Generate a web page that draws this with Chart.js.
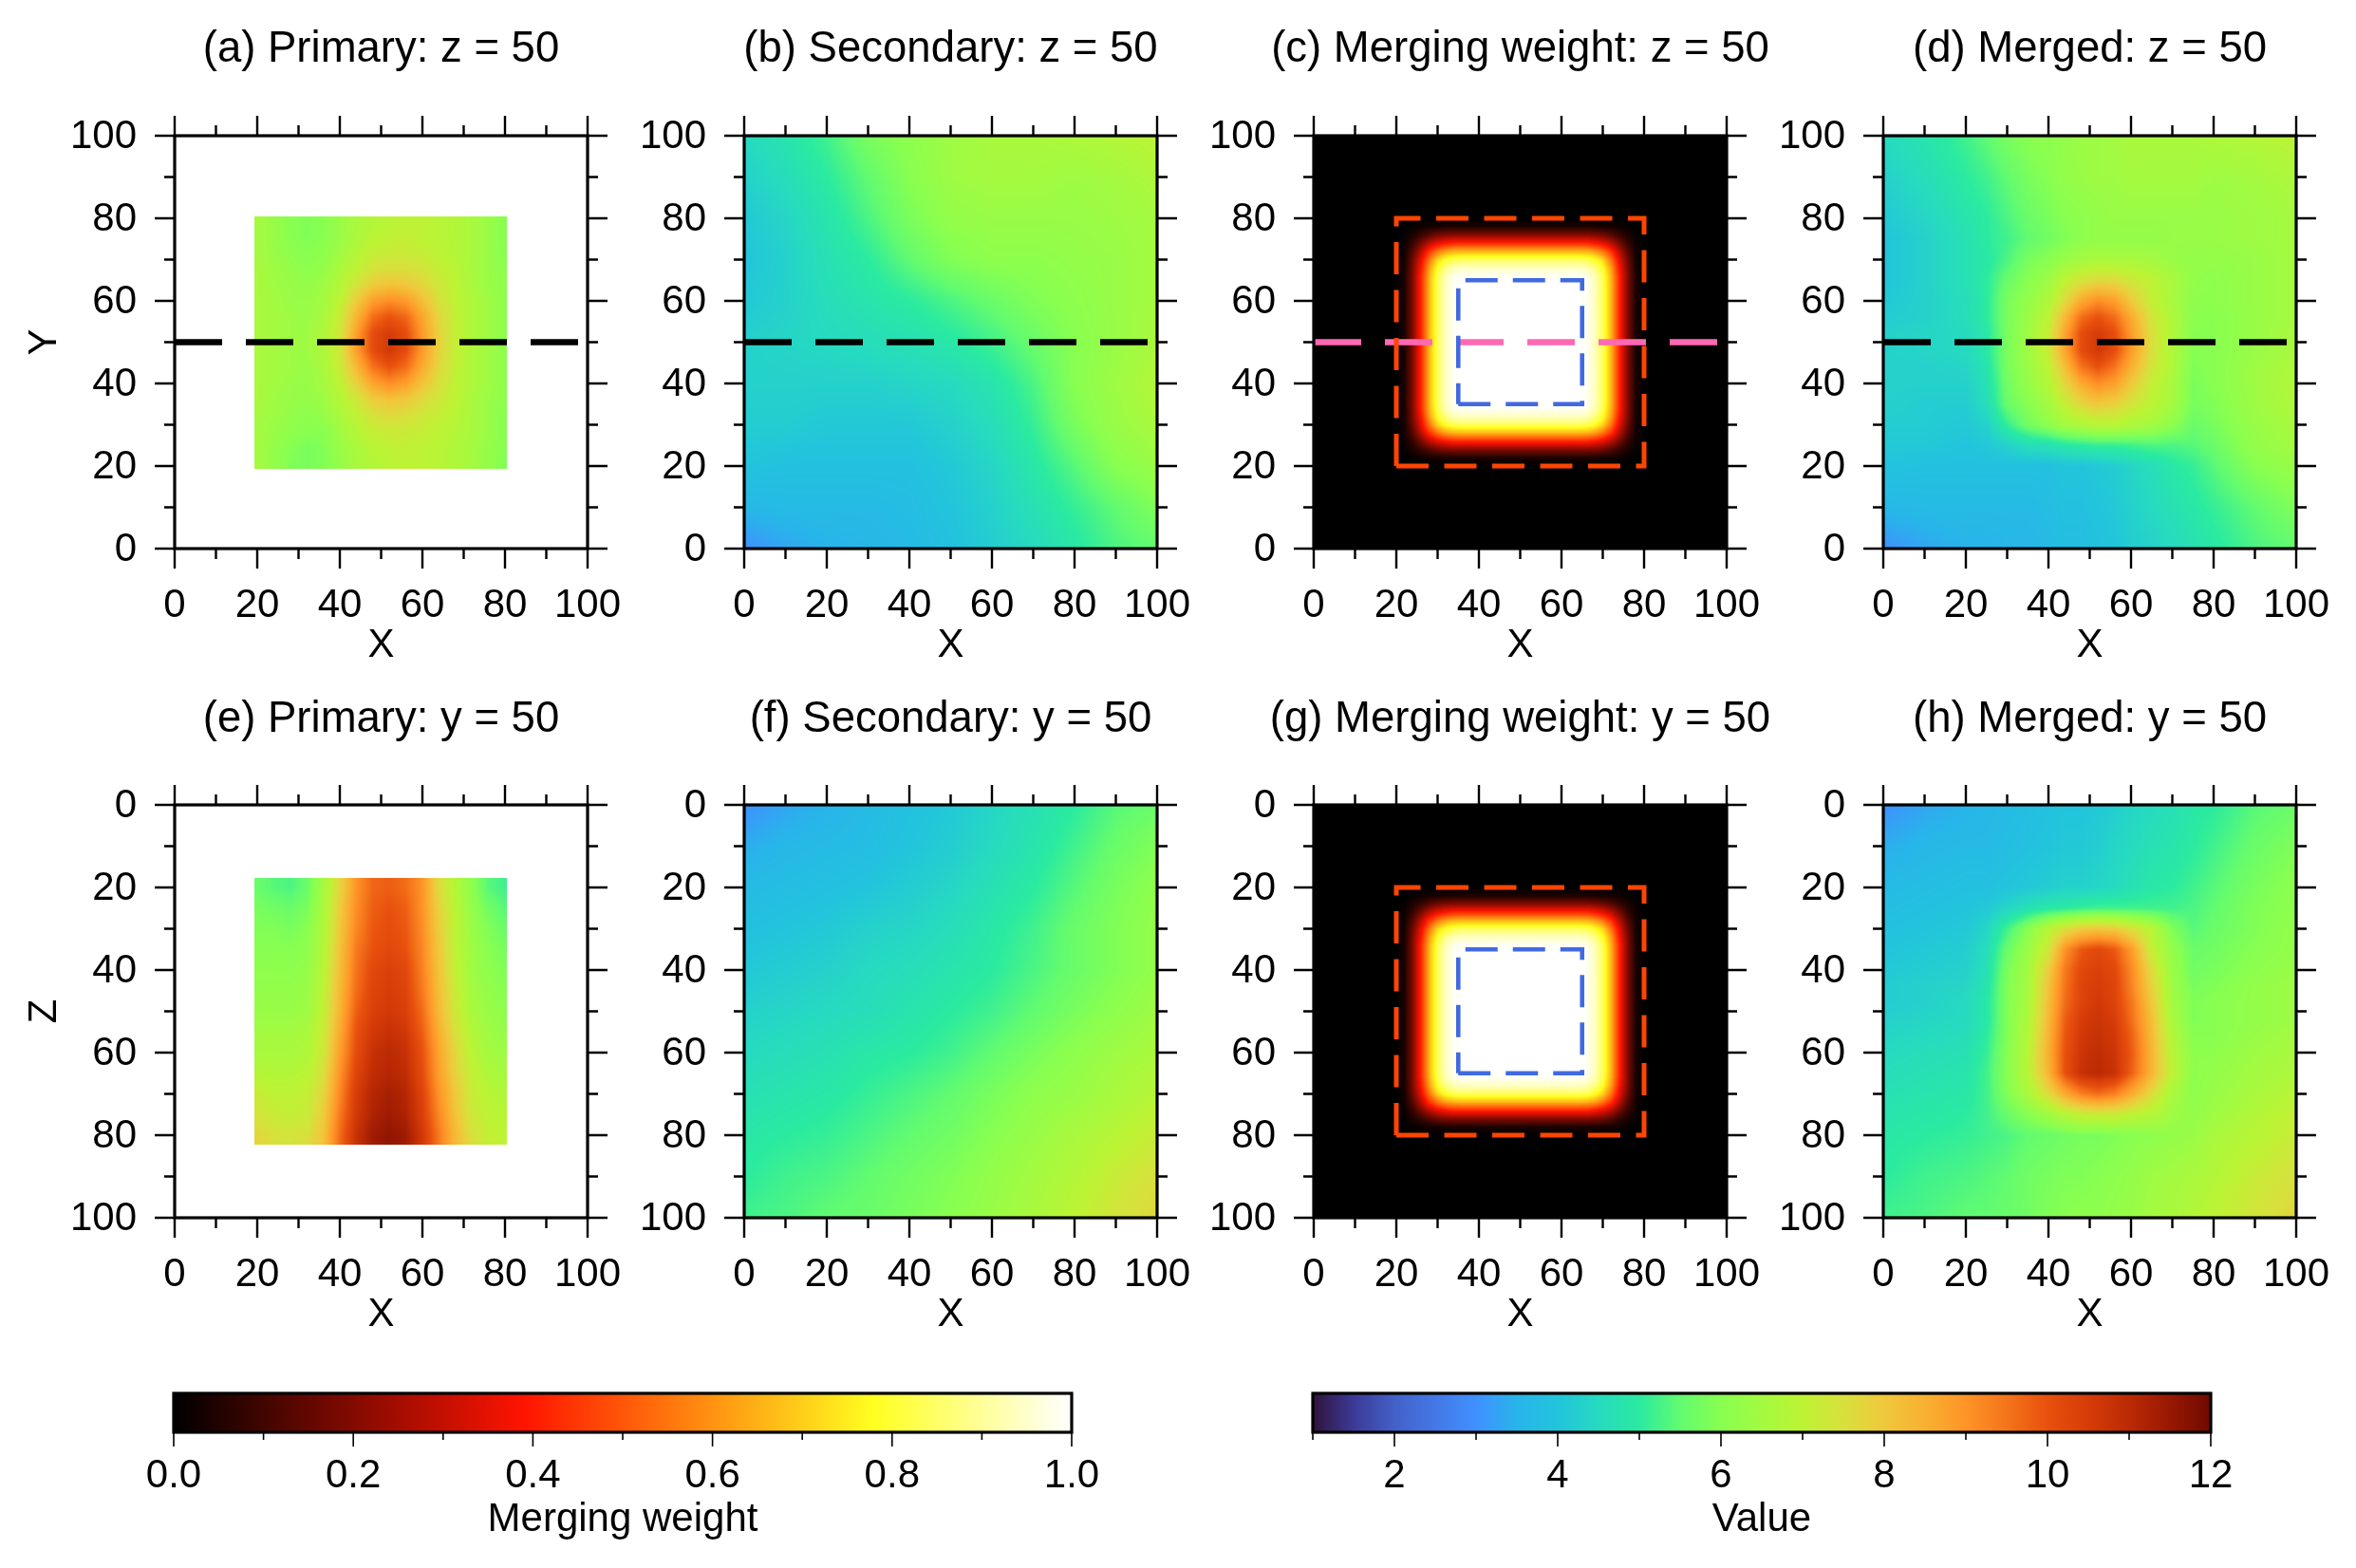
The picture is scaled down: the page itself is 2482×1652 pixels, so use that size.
<!DOCTYPE html>
<html>
<head>
<meta charset="utf-8">
<title>Merging panels</title>
<script src="https://cdn.jsdelivr.net/npm/chart.js@4"></script>
<style>
  html, body { margin: 0; padding: 0; background: #fff; }
  #page { position: relative; width: 2482px; height: 1652px; overflow: hidden; background: #fff; }
  canvas { position: absolute; }
</style>
</head>
<body>
<div id="page"></div>
<script>
// tick labels
const axisMajor = [0, 20, 40, 60, 80, 100];
const axisMinor = [10, 30, 50, 70, 90];
const weightMajor = [0, 0.2, 0.4, 0.6, 0.8, 1];
const weightMinor = [0.1, 0.3, 0.5, 0.7, 0.9];
const valueMajor = [2, 4, 6, 8, 10, 12];
const valueMinor = [1, 3, 5, 7, 9, 11];

// colour tables (value, colour)
const valueStops = [
  [1, '#30123b'], [1.5, '#3c3a96'], [2, '#4360c8'], [2.5, '#4478e6'], [3, '#4090ff'], [3.5, '#28b4ea'],
  [4, '#22c4dc'], [4.5, '#26dac0'], [5, '#2aeaa0'], [5.5, '#62fb70'], [6, '#88ff50'], [6.5, '#a4fa40'],
  [7, '#bdf334'], [7.5, '#d8e03c'], [8, '#f0c83c'], [8.5, '#f8b030'], [9, '#ff9428'], [9.5, '#f4741a'],
  [10, '#e8500e'], [10.5, '#d63c08'], [11, '#bb2a04'], [11.5, '#981802'], [12, '#6f0a00']
];
const weightStops = [[0, '#000000'], [0.39, '#ff1400'], [0.78, '#ffff20'], [1, '#ffffff']];

// sampled grid nodes
const coarseNodes = [0, 10, 20, 30, 40, 50, 60, 70, 80, 90, 100];
const coarseNodesDown = [100, 90, 80, 70, 60, 50, 40, 30, 20, 10, 0];
const primaryNodes = [20, 24, 28, 32, 36, 40, 44, 48, 52, 56, 60, 64, 68, 72, 76, 80];
const primaryNodesDown = [80, 76, 72, 68, 64, 60, 56, 52, 48, 44, 40, 36, 32, 28, 24, 20];
const primaryDepths = [20, 25, 30, 35, 40, 45, 50, 55, 60, 65, 70, 75, 80];
const weightNodes = [0, 20, 22, 24, 26, 28, 30, 32, 34, 36, 50, 64, 66, 68, 70, 72, 74, 76, 78, 80, 100];
const mergedNodes = [0, 10, 20, 25, 30, 35, 40, 44, 48, 52, 56, 60, 65, 70, 75, 80, 90, 100];
const mergedNodesDown = [100, 90, 80, 75, 70, 65, 60, 56, 52, 48, 44, 40, 35, 30, 25, 20, 10, 0];

// (a) primary at z = 50, rows top to bottom
const primaryZ = [
  [6.5,6.3,6.0,5.9,6.0,6.3,6.6,6.8,6.9,7.0,7.0,6.9,6.8,6.6,6.3,6.0],
  [6.5,6.3,6.0,5.9,6.0,6.3,6.6,6.9,7.0,7.1,7.0,6.9,6.8,6.6,6.3,6.0],
  [6.5,6.3,6.1,6.0,6.1,6.4,6.8,7.1,7.2,7.2,7.1,7.0,6.8,6.6,6.3,6.0],
  [6.6,6.4,6.2,6.1,6.2,6.6,7.0,7.4,7.5,7.5,7.4,7.1,6.9,6.6,6.3,6.1],
  [6.6,6.4,6.3,6.2,6.4,6.8,7.4,7.9,8.1,8.0,7.7,7.3,7.0,6.6,6.3,6.1],
  [6.6,6.5,6.3,6.3,6.5,7.0,7.9,8.8,9.1,8.9,8.2,7.5,7.0,6.7,6.4,6.1],
  [6.6,6.5,6.4,6.3,6.6,7.2,8.4,9.6,10.0,9.7,8.7,7.7,7.1,6.7,6.4,6.1],
  [6.6,6.5,6.4,6.4,6.7,7.3,8.8,10.1,10.5,10.1,8.9,7.8,7.1,6.7,6.4,6.1],
  [6.6,6.5,6.4,6.4,6.7,7.3,8.8,10.1,10.6,10.1,8.9,7.8,7.1,6.7,6.4,6.1],
  [6.6,6.5,6.4,6.3,6.6,7.2,8.3,9.5,10.0,9.6,8.6,7.7,7.1,6.7,6.4,6.1],
  [6.6,6.5,6.3,6.3,6.5,7.0,7.8,8.7,9.1,8.8,8.1,7.5,7.0,6.7,6.4,6.1],
  [6.6,6.4,6.3,6.2,6.4,6.8,7.3,7.9,8.1,8.0,7.6,7.3,7.0,6.6,6.3,6.1],
  [6.5,6.4,6.2,6.1,6.2,6.6,7.0,7.4,7.6,7.5,7.3,7.1,6.9,6.6,6.3,6.0],
  [6.5,6.3,6.1,6.0,6.0,6.4,6.8,7.1,7.2,7.2,7.1,7.0,6.8,6.6,6.3,6.0],
  [6.5,6.2,6.0,5.8,5.9,6.3,6.6,6.9,7.0,7.1,7.0,6.9,6.7,6.5,6.2,6.0],
  [6.5,6.2,5.9,5.8,5.9,6.2,6.6,6.8,6.9,7.0,7.0,6.9,6.7,6.5,6.2,5.9]
];

// (b) secondary at z = 50
const secondaryZ = [
  [4.5,4.8,5.2,5.8,6.1,6.4,6.6,6.6,6.7,6.8,7.0],
  [4.3,4.6,5.0,5.5,6.0,6.4,6.5,6.5,6.4,6.5,6.7],
  [4.1,4.4,4.8,5.3,5.8,6.2,6.3,6.3,6.3,6.4,6.5],
  [4.0,4.3,4.7,5.0,5.5,5.9,6.1,6.1,6.2,6.3,6.5],
  [4.1,4.3,4.6,4.8,5.0,5.3,5.6,5.9,6.1,6.3,6.5],
  [4.3,4.4,4.5,4.6,4.7,4.9,5.2,5.6,6.0,6.3,6.6],
  [4.3,4.3,4.3,4.3,4.4,4.5,4.8,5.3,6.0,6.4,6.8],
  [4.2,4.2,4.1,4.1,4.1,4.3,4.6,5.1,5.8,6.3,6.6],
  [4.0,3.9,3.9,3.9,3.9,4.1,4.4,4.9,5.4,6.0,6.3],
  [3.6,3.7,3.7,3.7,3.8,4.0,4.3,4.7,5.1,5.5,5.9],
  [3.0,3.3,3.5,3.6,3.7,3.9,4.2,4.5,4.9,5.3,5.5]
];

// (c, g) merging weight, rows by distance from the box edge
const wEdge = [0,0,0,0,0,0,0,0,0,0,0,0,0,0,0,0,0,0,0,0,0];
const w22 = [0,0,0,.01,.02,.03,.03,.04,.04,.04,.04,.04,.04,.04,.03,.03,.02,.01,0,0,0];
const w24 = [0,0,.01,.04,.08,.13,.17,.19,.2,.2,.2,.2,.2,.19,.17,.13,.08,.04,.01,0,0];
const w26 = [0,0,.02,.08,.18,.28,.35,.39,.42,.42,.42,.42,.42,.39,.35,.28,.18,.08,.02,0,0];
const w28 = [0,0,.03,.13,.28,.44,.55,.62,.65,.66,.66,.66,.65,.62,.55,.44,.28,.13,.03,0,0];
const w30 = [0,0,.03,.17,.35,.55,.71,.79,.83,.84,.84,.84,.83,.79,.71,.55,.35,.17,.03,0,0];
const w32 = [0,0,.04,.19,.39,.62,.79,.88,.93,.94,.94,.94,.93,.88,.79,.62,.39,.19,.04,0,0];
const w34 = [0,0,.04,.2,.42,.65,.83,.93,.98,.99,.99,.99,.98,.93,.83,.65,.42,.2,.04,0,0];
const w36 = [0,0,.04,.2,.42,.66,.84,.94,.99,1,1,1,.99,.94,.84,.66,.42,.2,.04,0,0];
const weightGrid = [wEdge, wEdge, w22, w24, w26, w28, w30, w32, w34, w36, w36, w36, w34, w32, w30, w28, w26, w24, w22, wEdge, wEdge];

// (d) merged at z = 50
const mergedZ = [
  [4.5,4.8,5.2,5.5,5.8,6.0,6.1,6.2,6.4,6.4,6.5,6.6,6.6,6.6,6.6,6.7,6.8,7.0],
  [4.3,4.6,5.0,5.2,5.5,5.8,6.0,6.2,6.3,6.4,6.4,6.5,6.5,6.5,6.5,6.4,6.5,6.7],
  [4.1,4.4,4.8,5.0,5.3,5.6,5.8,6.0,6.1,6.2,6.3,6.3,6.3,6.3,6.3,6.3,6.4,6.5],
  [4.0,4.3,4.7,5.0,5.2,5.5,5.7,5.9,6.1,6.2,6.2,6.2,6.2,6.3,6.3,6.3,6.4,6.5],
  [4.0,4.3,4.7,4.9,5.3,5.8,6.0,6.3,6.5,6.6,6.6,6.6,6.5,6.3,6.2,6.2,6.3,6.5],
  [4.0,4.3,4.7,5.0,5.6,6.0,6.4,7.0,7.4,7.6,7.6,7.3,7.0,6.6,6.2,6.1,6.3,6.5],
  [4.1,4.3,4.6,5.0,5.8,6.2,6.7,7.6,8.6,9.1,8.8,8.0,7.1,6.6,6.1,6.1,6.3,6.5],
  [4.2,4.3,4.6,5.0,5.8,6.3,7.0,8.3,9.6,10.0,9.6,8.6,7.4,6.7,6.1,6.0,6.3,6.5],
  [4.3,4.4,4.5,4.9,5.8,6.4,7.2,8.7,10.1,10.5,10.1,8.9,7.5,6.7,6.0,6.0,6.3,6.6],
  [4.3,4.4,4.5,4.9,5.8,6.4,7.2,8.7,10.1,10.6,10.1,8.9,7.5,6.7,6.0,6.0,6.3,6.6],
  [4.3,4.3,4.4,4.8,5.8,6.3,7.0,8.2,9.5,10.0,9.5,8.5,7.4,6.7,5.9,6.0,6.4,6.7],
  [4.3,4.3,4.3,4.7,5.7,6.2,6.8,7.7,8.6,9.1,8.8,8.0,7.1,6.6,5.8,6.0,6.4,6.8],
  [4.3,4.2,4.2,4.6,5.6,6.0,6.5,7.1,7.7,8.0,7.8,7.4,7.0,6.5,5.8,5.9,6.4,6.7],
  [4.2,4.2,4.1,4.3,5.1,5.7,6.1,6.5,6.7,6.9,6.9,6.7,6.5,6.1,5.6,5.8,6.3,6.6],
  [4.1,4.1,4.0,4.1,4.3,4.6,4.7,4.9,5.0,5.1,5.1,5.2,5.3,5.3,5.4,5.6,6.2,6.5],
  [4.0,3.9,3.9,3.9,3.9,3.9,3.9,4.0,4.0,4.1,4.2,4.4,4.6,4.9,5.1,5.4,6.0,6.3],
  [3.6,3.7,3.7,3.7,3.7,3.7,3.8,3.9,3.9,4.0,4.1,4.3,4.5,4.7,4.9,5.1,5.5,5.9],
  [3.0,3.3,3.5,3.5,3.6,3.6,3.7,3.8,3.8,3.9,4.0,4.2,4.3,4.5,4.7,4.9,5.3,5.5]
];

// (e) primary at y = 50
const primaryY = [
  [5.6,5.4,5.3,5.6,6.5,7.7,9.0,9.7,9.8,9.6,9.0,7.6,6.8,6.1,5.4,5.2],
  [5.8,5.7,5.6,5.8,6.6,7.9,9.1,9.8,10.0,9.8,9.0,7.8,6.9,6.2,5.7,5.4],
  [5.9,5.9,5.8,6.0,6.7,8.0,9.2,9.9,10.1,9.9,9.1,7.9,7.0,6.3,5.9,5.6],
  [6.0,6.0,6.0,6.1,6.8,8.1,9.4,10.0,10.2,10.0,9.2,8.0,7.0,6.4,6.0,5.8],
  [6.1,6.1,6.1,6.2,6.9,8.2,9.5,10.2,10.4,10.2,9.3,8.1,7.1,6.4,6.1,5.9],
  [6.2,6.2,6.2,6.3,7.0,8.3,9.6,10.3,10.5,10.3,9.4,8.2,7.2,6.5,6.2,6.0],
  [6.3,6.3,6.3,6.4,7.1,8.4,9.8,10.4,10.6,10.4,9.6,8.3,7.3,6.6,6.3,6.1],
  [6.5,6.5,6.5,6.6,7.2,8.6,10.0,10.6,10.8,10.6,9.8,8.5,7.5,6.8,6.4,6.2],
  [6.6,6.6,6.6,6.7,7.3,8.8,10.1,10.8,11.0,10.8,10.0,8.7,7.7,6.9,6.5,6.4],
  [6.8,6.8,6.8,6.9,7.5,9.0,10.3,10.9,11.1,10.9,10.1,8.8,7.8,7.1,6.7,6.5],
  [7.2,7.0,7.0,7.1,7.7,9.2,10.5,11.1,11.3,11.1,10.3,9.0,8.0,7.2,6.9,6.7],
  [7.4,7.2,7.1,7.2,7.9,9.4,10.6,11.2,11.4,11.2,10.4,9.2,8.1,7.3,7.0,6.9],
  [7.7,7.5,7.4,7.5,8.1,9.6,10.8,11.4,11.6,11.4,10.6,9.4,8.3,7.5,7.1,7.0]
];

// (f) secondary at y = 50
const secondaryY = [
  [3.0,3.3,3.5,3.7,3.9,4.1,4.4,4.7,5.0,5.4,5.6],
  [3.4,3.6,3.7,3.8,4.0,4.2,4.5,4.8,5.2,5.6,5.9],
  [3.7,3.8,3.9,4.0,4.2,4.4,4.7,5.0,5.4,5.8,6.1],
  [3.9,4.0,4.1,4.3,4.4,4.6,4.9,5.2,5.6,5.9,6.2],
  [4.1,4.2,4.3,4.5,4.6,4.8,5.0,5.3,5.6,5.9,6.2],
  [4.3,4.4,4.5,4.6,4.8,5.0,5.2,5.5,5.8,6.1,6.4],
  [4.5,4.6,4.7,4.9,5.0,5.2,5.5,5.8,6.1,6.4,6.6],
  [4.7,4.8,4.9,5.1,5.3,5.5,5.8,6.1,6.3,6.6,6.9],
  [4.9,5.0,5.1,5.3,5.5,5.7,6.0,6.3,6.6,6.9,7.2],
  [5.0,5.2,5.3,5.5,5.7,5.9,6.2,6.5,6.8,7.2,7.5],
  [5.2,5.3,5.5,5.6,5.8,6.0,6.3,6.6,7.0,7.4,7.7]
];

// (h) merged at y = 50
const mergedY = [
  [3.0,3.3,3.5,3.6,3.7,3.8,3.9,4.0,4.0,4.1,4.2,4.4,4.5,4.7,4.9,5.0,5.4,5.6],
  [3.4,3.6,3.7,3.7,3.8,3.9,4.0,4.1,4.1,4.2,4.4,4.5,4.7,4.8,5.0,5.2,5.6,5.9],
  [3.7,3.8,3.9,3.9,4.0,4.1,4.2,4.3,4.3,4.4,4.5,4.7,4.9,5.0,5.2,5.4,5.8,6.1],
  [3.8,3.9,4.0,4.1,4.4,4.7,4.9,5.0,5.1,5.2,5.2,5.2,5.2,5.2,5.3,5.5,5.9,6.1],
  [3.9,4.0,4.1,4.4,5.2,6.0,6.9,7.5,7.9,8.0,7.9,7.5,6.9,5.9,5.4,5.6,5.9,6.2],
  [4.0,4.1,4.2,4.6,5.6,6.3,7.3,9.0,9.9,10.2,9.9,8.9,7.1,6.2,5.6,5.7,6.0,6.2],
  [4.1,4.2,4.3,4.7,5.8,6.5,7.9,9.4,10.2,10.4,10.2,9.2,7.6,6.3,5.7,5.8,6.1,6.3],
  [4.2,4.3,4.4,4.8,5.9,6.5,8.1,9.5,10.3,10.5,10.3,9.3,7.8,6.4,5.8,5.9,6.2,6.4],
  [4.2,4.3,4.5,4.9,5.9,6.6,8.2,9.6,10.3,10.6,10.3,9.5,8.0,6.5,5.9,6.0,6.2,6.4],
  [4.3,4.4,4.5,4.9,5.9,6.7,8.3,9.8,10.5,10.7,10.5,9.6,8.2,6.6,5.9,6.0,6.2,6.4],
  [4.4,4.5,4.6,5.0,5.9,6.8,8.4,9.9,10.6,10.8,10.6,9.8,8.3,6.8,6.0,6.0,6.3,6.5],
  [4.5,4.6,4.7,5.1,6.0,6.9,8.5,10.0,10.7,10.9,10.7,9.9,8.4,6.9,6.1,6.1,6.4,6.6],
  [4.6,4.7,4.8,5.2,6.0,6.9,8.4,10.0,10.8,11.0,10.8,9.8,8.4,7.0,6.1,6.2,6.5,6.7],
  [4.7,4.8,4.9,5.2,5.9,6.6,7.6,8.6,9.3,9.6,9.3,8.6,7.6,6.6,6.1,6.3,6.6,6.9],
  [4.8,4.9,5.0,5.2,5.6,6.0,6.4,6.8,7.1,7.2,7.2,7.0,6.8,6.4,6.2,6.4,6.8,7.1],
  [4.9,5.0,5.1,5.2,5.3,5.5,5.6,5.7,5.8,5.8,5.9,6.0,6.1,6.2,6.3,6.6,6.9,7.2],
  [5.0,5.2,5.3,5.4,5.5,5.7,5.8,5.9,5.9,6.0,6.1,6.2,6.4,6.5,6.6,6.8,7.2,7.5],
  [5.2,5.3,5.5,5.5,5.6,5.7,5.9,6.0,6.1,6.1,6.2,6.3,6.5,6.6,6.8,7.0,7.4,7.7]
];

// overlay lines
const sectionX = [0, 100];
const sectionY = [50, 50];
const outerX = [20, 80, 80, 20, 20];
const outerY = [20, 20, 80, 80, 20];
const outerZ = [80, 80, 20, 20, 80];
const innerX = [35, 65, 65, 35, 35];
const innerY = [35, 35, 65, 65, 35];
const innerZ = [65, 65, 35, 35, 65];

const FONT = '"Liberation Sans", Arial, sans-serif';
const blackLine = { color: '#000000', width: 6.5, dash: [50, 25] };
const pinkLine = { color: '#ff69b4', width: 6.5, dash: [50, 25] };
const orangeLine = { color: '#ff4500', width: 5, dash: [34, 16.5] };
const blueLine = { color: '#4169e1', width: 4.6, dash: [34, 16] };

function hexToRgb(h) {
  return [parseInt(h.substr(1, 2), 16), parseInt(h.substr(3, 2), 16), parseInt(h.substr(5, 2), 16)];
}

function colourAt(stops, v) {
  if (v <= stops[0][0]) return hexToRgb(stops[0][1]);
  for (let i = 1; i < stops.length; i++) {
    if (v <= stops[i][0]) {
      const t = (v - stops[i - 1][0]) / (stops[i][0] - stops[i - 1][0]);
      const a = hexToRgb(stops[i - 1][1]);
      const b = hexToRgb(stops[i][1]);
      return [a[0] + (b[0] - a[0]) * t, a[1] + (b[1] - a[1]) * t, a[2] + (b[2] - a[2]) * t];
    }
  }
  return hexToRgb(stops[stops.length - 1][1]);
}

// where v falls between two neighbouring nodes
function bracket(nodes, v) {
  const n = nodes.length - 1;
  const up = nodes[n] > nodes[0];
  for (let i = 0; i < n; i++) {
    if (up ? v <= nodes[i + 1] : v >= nodes[i + 1]) {
      return [i, Math.max(0, (v - nodes[i]) / (nodes[i + 1] - nodes[i]))];
    }
  }
  return [n - 1, 1];
}

// paints the hidden cell dataset, through the chart's scales
const heatPlugin = {
  id: 'heat',
  beforeDatasetsDraw(chart) {
    const cells = chart.data.datasets[0];
    if (!cells.xNodes) return;
    const sx = chart.scales.x;
    const sy = chart.scales.y;
    const ext = cells.extent;
    const x0 = Math.round(sx.getPixelForValue(ext[0]));
    const x1 = Math.round(sx.getPixelForValue(ext[1]));
    const y0 = Math.round(Math.min(sy.getPixelForValue(ext[2]), sy.getPixelForValue(ext[3])));
    const y1 = Math.round(Math.max(sy.getPixelForValue(ext[2]), sy.getPixelForValue(ext[3])));
    const w = x1 - x0;
    const h = y1 - y0;
    const nx = cells.xNodes.length;
    const img = chart.ctx.createImageData(w, h);
    const columns = [];
    for (let i = 0; i < w; i++) columns.push(bracket(cells.xNodes, sx.getValueForPixel(x0 + i + 0.5)));
    let p = 0;
    for (let j = 0; j < h; j++) {
      const r = bracket(cells.yNodes, sy.getValueForPixel(y0 + j + 0.5));
      for (let i = 0; i < w; i++) {
        const c = columns[i];
        const a = cells.data[r[0] * nx + c[0]].v * (1 - c[1]) + cells.data[r[0] * nx + c[0] + 1].v * c[1];
        const b = cells.data[(r[0] + 1) * nx + c[0]].v * (1 - c[1]) + cells.data[(r[0] + 1) * nx + c[0] + 1].v * c[1];
        const rgb = colourAt(cells.stops, a * (1 - r[1]) + b * r[1]);
        img.data[p++] = rgb[0];
        img.data[p++] = rgb[1];
        img.data[p++] = rgb[2];
        img.data[p++] = 255;
      }
    }
    chart.ctx.putImageData(img, x0, y0);
  }
};

// the long titles are wider than the plot, so let the title box overhang it
const titleRoomPlugin = {
  id: 'titleRoom',
  afterLayout(chart) {
    chart.titleBlock.left -= 120;
    chart.titleBlock.right += 120;
  }
};

// outward ticks on all four sides and the frame
const framePlugin = {
  id: 'frame',
  afterDatasetsDraw(chart) {
    const ctx = chart.ctx;
    const a = chart.chartArea;
    const sx = chart.scales.x;
    const sy = chart.scales.y;
    const f = chart.config.options.frameStyle;
    ctx.save();
    ctx.strokeStyle = '#000';
    ctx.lineWidth = f.tickWidth;
    ctx.beginPath();
    f.xMajor.forEach(v => xTick(ctx, sx.getPixelForValue(v), a, f.major, f.bothSides));
    f.xMinor.forEach(v => xTick(ctx, sx.getPixelForValue(v), a, f.minor, f.bothSides));
    if (f.bothSides) {
      f.yMajor.forEach(v => yTick(ctx, sy.getPixelForValue(v), a, f.major));
      f.yMinor.forEach(v => yTick(ctx, sy.getPixelForValue(v), a, f.minor));
    }
    ctx.stroke();
    ctx.lineWidth = f.frameWidth;
    ctx.strokeRect(a.left, a.top, a.right - a.left, a.bottom - a.top);
    ctx.restore();
  }
};

function xTick(ctx, px, a, len, bothSides) {
  ctx.moveTo(px, a.bottom);
  ctx.lineTo(px, a.bottom + len);
  if (bothSides) {
    ctx.moveTo(px, a.top);
    ctx.lineTo(px, a.top - len);
  }
}

function yTick(ctx, py, a, len) {
  ctx.moveTo(a.left, py);
  ctx.lineTo(a.left - len, py);
  ctx.moveTo(a.right, py);
  ctx.lineTo(a.right + len, py);
}

function addCanvas(left, top, w, h) {
  const c = document.createElement('canvas');
  c.width = w;
  c.height = h;
  c.style.left = left + 'px';
  c.style.top = top + 'px';
  c.style.width = w + 'px';
  c.style.height = h + 'px';
  document.getElementById('page').appendChild(c);
  return c;
}

function cellData(xNodes, yNodes, rows) {
  const out = [];
  rows.forEach((row, j) => row.forEach((v, i) => out.push({ x: xNodes[i], y: yNodes[j], v: v })));
  return out;
}

function lineData(xs, ys, style) {
  return {
    data: xs.map((x, i) => ({ x: x, y: ys[i] })),
    showLine: true,
    pointRadius: 0,
    borderColor: style.color,
    borderWidth: style.width,
    borderDash: style.dash,
    borderCapStyle: 'butt',
    borderJoinStyle: 'miter',
    tension: 0
  };
}

function setTicks(values) {
  return scale => { scale.ticks = values.map(v => ({ value: v })); };
}

function drawPanel(p) {
  const left = p.left - 170;
  const top = p.top - 130;
  const cells = {
    data: cellData(p.xNodes, p.yNodes, p.rows),
    xNodes: p.xNodes,
    yNodes: p.yNodes,
    stops: p.stops,
    extent: p.extent || [0, 100, 0, 100],
    pointRadius: 0,
    showLine: false
  };
  new Chart(addCanvas(left, top, 660, 695), {
    type: 'scatter',
    data: { datasets: [cells].concat(p.lines || []) },
    plugins: [heatPlugin, framePlugin, titleRoomPlugin],
    options: {
      responsive: false,
      animation: false,
      devicePixelRatio: 1,
      events: [],
      layout: { autoPadding: false, padding: { left: 0, right: 55, top: 0, bottom: 0 } },
      frameStyle: { xMajor: axisMajor, xMinor: axisMinor, yMajor: axisMajor, yMinor: axisMinor, major: 21, minor: 11, tickWidth: 2.4, frameWidth: 3.2, bothSides: true },
      plugins: {
        legend: { display: false },
        tooltip: { enabled: false },
        title: {
          display: true,
          fullSize: false,
          text: p.title,
          color: '#000',
          font: { family: FONT, size: 45.5, weight: 'normal', lineHeight: 1.2 },
          padding: { top: p.titlePad, bottom: 75.4 - p.titlePad }
        }
      },
      scales: {
        x: {
          type: 'linear',
          min: 0,
          max: 100,
          afterBuildTicks: setTicks(axisMajor),
          afterFit: s => { s.height = 130; s.paddingLeft = 0; s.paddingRight = 0; },
          grid: { display: false, drawTicks: false },
          border: { display: false },
          ticks: { color: '#000', padding: 35, autoSkip: false, maxRotation: 0, font: { family: FONT, size: 42 } },
          title: { display: true, text: 'X', color: '#000', font: { family: FONT, size: 42 }, padding: { top: 0, bottom: 2 } }
        },
        y: {
          type: 'linear',
          min: 0,
          max: 100,
          reverse: !!p.reverse,
          afterBuildTicks: setTicks(axisMajor),
          afterFit: s => { s.width = 170; s.paddingTop = 0; s.paddingBottom = 0; },
          grid: { display: false, drawTicks: false },
          border: { display: false },
          ticks: { color: '#000', padding: 40, labelOffset: 1.5, autoSkip: false, font: { family: FONT, size: 42 } },
          title: { display: !!p.yTitle, text: p.yTitle || '', color: '#000', font: { family: FONT, size: 42 }, padding: { top: 8, bottom: 0 } }
        }
      }
    }
  });
}

function drawBar(b) {
  new Chart(addCanvas(b.left - 60, 1440, 946 + 120, 190), {
    type: 'bar',
    data: {
      labels: [b.title],
      datasets: [{
        data: [[b.min, b.max]],
        barPercentage: 1,
        categoryPercentage: 1,
        backgroundColor: ctx => {
          const chart = ctx.chart;
          if (!chart.chartArea) return '#000';
          const sx = chart.scales.x;
          const g = chart.ctx.createLinearGradient(sx.getPixelForValue(b.min), 0, sx.getPixelForValue(b.max), 0);
          b.stops.forEach(s => g.addColorStop((s[0] - b.min) / (b.max - b.min), s[1]));
          return g;
        }
      }]
    },
    plugins: [framePlugin],
    options: {
      indexAxis: 'y',
      responsive: false,
      animation: false,
      devicePixelRatio: 1,
      events: [],
      layout: { autoPadding: false, padding: { left: 60, right: 60, top: 28, bottom: 0 } },
      frameStyle: { xMajor: b.major, xMinor: b.minor, yMajor: [], yMinor: [], major: 15, minor: 8, tickWidth: 1.6, frameWidth: 3.2, bothSides: false },
      plugins: { legend: { display: false }, tooltip: { enabled: false } },
      scales: {
        x: {
          type: 'linear',
          min: b.min,
          max: b.max,
          afterBuildTicks: setTicks(b.major),
          afterFit: s => { s.height = 121; },
          grid: { display: false, drawTicks: false },
          border: { display: false },
          ticks: { color: '#000', padding: 21, autoSkip: false, maxRotation: 0, callback: b.format, font: { family: FONT, size: 42 } },
          title: { display: true, text: b.title, color: '#000', font: { family: FONT, size: 42 }, padding: { top: 0, bottom: 3 } }
        },
        y: { display: false, offset: true, grid: { display: false } }
      }
    }
  });
}

const lefts = [184, 784, 1384, 1984];
const topRow = 143;
const bottomRow = 848;

drawPanel({ left: lefts[0], top: topRow, titlePad: 12, title: '(a) Primary: z = 50', yTitle: 'Y', xNodes: primaryNodes, yNodes: primaryNodesDown, rows: primaryZ, stops: valueStops, extent: [19.4, 80.5, 19.4, 80.4], lines: [lineData(sectionX, sectionY, blackLine)] });
drawPanel({ left: lefts[1], top: topRow, titlePad: 12, title: '(b) Secondary: z = 50', xNodes: coarseNodes, yNodes: coarseNodesDown, rows: secondaryZ, stops: valueStops, lines: [lineData(sectionX, sectionY, blackLine)] });
drawPanel({ left: lefts[2], top: topRow, titlePad: 12, title: '(c) Merging weight: z = 50', xNodes: weightNodes, yNodes: weightNodes, rows: weightGrid, stops: weightStops, lines: [lineData(outerX, outerY, orangeLine), lineData(innerX, innerY, blueLine), lineData(sectionX, sectionY, pinkLine)] });
drawPanel({ left: lefts[3], top: topRow, titlePad: 12, title: '(d) Merged: z = 50', xNodes: mergedNodes, yNodes: mergedNodesDown, rows: mergedZ, stops: valueStops, lines: [lineData(sectionX, sectionY, blackLine)] });

drawPanel({ left: lefts[0], top: bottomRow, titlePad: 13, reverse: true, title: '(e) Primary: y = 50', yTitle: 'Z', xNodes: primaryNodes, yNodes: primaryDepths, rows: primaryY, stops: valueStops, extent: [19.4, 80.5, 17.6, 82.4] });
drawPanel({ left: lefts[1], top: bottomRow, titlePad: 13, reverse: true, title: '(f) Secondary: y = 50', xNodes: coarseNodes, yNodes: coarseNodes, rows: secondaryY, stops: valueStops });
drawPanel({ left: lefts[2], top: bottomRow, titlePad: 13, reverse: true, title: '(g) Merging weight: y = 50', xNodes: weightNodes, yNodes: weightNodes, rows: weightGrid, stops: weightStops, lines: [lineData(outerX, outerZ, orangeLine), lineData(innerX, innerZ, blueLine)] });
drawPanel({ left: lefts[3], top: bottomRow, titlePad: 13, reverse: true, title: '(h) Merged: y = 50', xNodes: mergedNodes, yNodes: mergedNodes, rows: mergedY, stops: valueStops });

drawBar({ left: 183, min: 0, max: 1, stops: weightStops, major: weightMajor, minor: weightMinor, title: 'Merging weight', format: v => Number(v).toFixed(1) });
drawBar({ left: 1383, min: 1, max: 12, stops: valueStops, major: valueMajor, minor: valueMinor, title: 'Value', format: v => String(v) });
</script>
</body>
</html>
